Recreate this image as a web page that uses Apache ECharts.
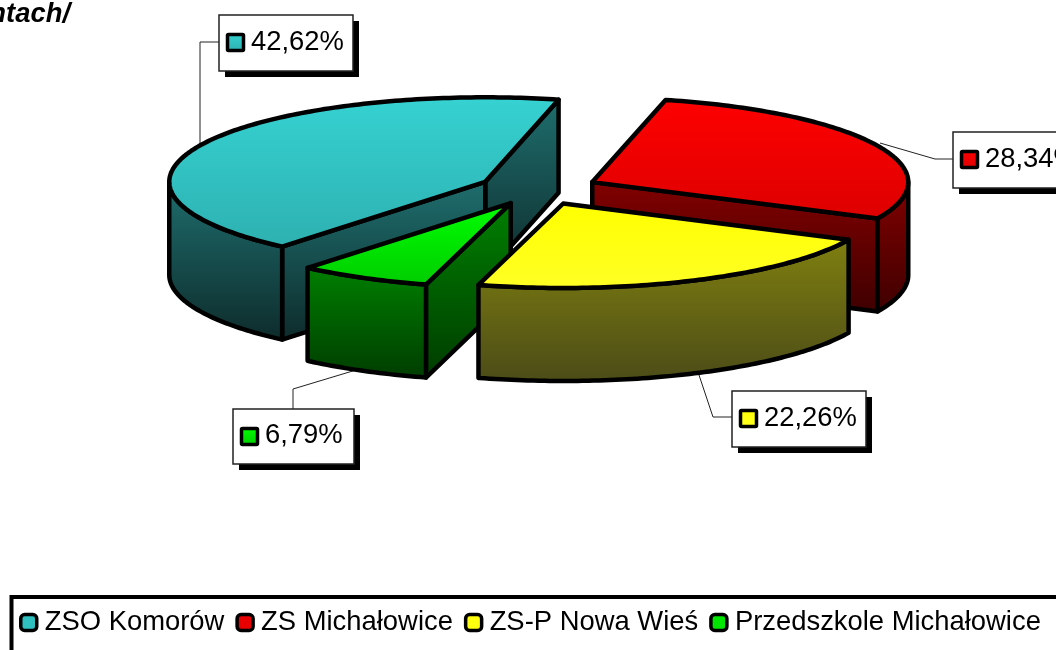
<!DOCTYPE html>
<html>
<head>
<meta charset="utf-8">
<style>
  html, body { margin: 0; padding: 0; background: #fff; }
  #chart { width: 1056px; height: 650px; }
</style>
<script src="https://cdn.jsdelivr.net/npm/echarts@6/dist/echarts.min.js"></script>
</head>
<body>
<div id="chart"></div>
<script>
// dane
var categories = ['ZSO Komorów', 'ZS Michałowice', 'ZS-P Nowa Wieś', 'Przedszkole Michałowice'];
var values = [42.62, 28.34, 22.26, 6.79];
var valueLabels = ['42,62%', '28,34%', '22,26%', '6,79%'];

// kolory: gora plasterka i sciany, od gory do dolu
var topColors = [['#36d2d2', '#2eb0b0'], ['#ff0000', '#dd0000'], ['#ffff00', '#ffff26'], ['#00ff00', '#00cc00']];
var wallColors = [['#1f6e6e', '#0e2b2b'], ['#820000', '#3f0000'], ['#808010', '#4b4b18'], ['#008000', '#003c00']];
var legendColors = ['#2fbfbf', '#e80000', '#ffff10', '#00e600'];

// uklad
var centerX = 538.5, centerY = 189;
var radiusX = 316, radiusY = 84.5;
var explode = 59.6;
var depth = 93;
var startAngle = 230; // stopnie od osi x, tu konczy sie pierwszy plasterek
var total = values.reduce(function (a, b) { return a + b; }, 0);

// ramki etykiet i linie odniesienia
var labelBoxes = [
  {x: 219, y: 15, w: 134, h: 56, line: [[219, 42], [200, 42], [200, 146]]},
  {x: 953, y: 132, w: 134, h: 56, line: [[953, 159], [935, 159], [880, 143]]},
  {x: 732, y: 391, w: 134, h: 56, line: [[732, 417], [713, 417], [698, 372]]},
  {x: 233, y: 409, w: 121, h: 55, line: [[293, 409], [293, 389], [356, 370]]}
];

function rad(d) { return d * Math.PI / 180; }

// katy plasterka liczone od startAngle w dol, zawsze a0 >= 0
function sliceAngles(index) {
  var before = 0;
  for (var i = 0; i < index; i++) before += values[i];
  var a1 = startAngle - before / total * 360;
  var a0 = a1 - values[index] / total * 360;
  if (a0 < 0) {
    a0 += 360;
    a1 += 360;
  }
  return [a0, a1];
}

function gradient(c) {
  return new echarts.graphic.LinearGradient(0, 0, 0, 1, [
    {offset: 0, color: c[0]},
    {offset: 1, color: c[1]}
  ]);
}

function polygon(points, colors) {
  return {
    type: 'polygon',
    shape: {points: points},
    style: {fill: gradient(colors), stroke: '#000', lineWidth: 4.5, lineJoin: 'round'}
  };
}

function renderSlice(index) {
  return function (params, api) {
    var a = sliceAngles(index);
    var a0 = a[0], a1 = a[1];
    var mid = rad((a0 + a1) / 2);
    var ax = centerX + explode * Math.cos(mid);
    var ay = centerY - explode * Math.sin(mid) * radiusY / radiusX;

    function pt(deg, down) {
      return [ax + radiusX * Math.cos(rad(deg)), ay - radiusY * Math.sin(rad(deg)) + (down || 0)];
    }

    var children = [];
    var box = labelBoxes[index];

    // linia odniesienia pod plasterkiem
    children.push({
      type: 'polyline',
      shape: {points: box.line},
      style: {fill: null, stroke: '#222', lineWidth: 1}
    });

    // sciany ciecia, tylko te widoczne
    if (Math.cos(rad(a0)) > 0) {
      var p0 = pt(a0);
      children.push(polygon([[ax, ay], p0, [p0[0], p0[1] + depth], [ax, ay + depth]], wallColors[index]));
    }
    if (Math.cos(rad(a1)) < 0) {
      var p1 = pt(a1);
      children.push(polygon([[ax, ay], p1, [p1[0], p1[1] + depth], [ax, ay + depth]], wallColors[index]));
    }

    // sciana zewnetrzna, przednia czesc luku
    var frontStart = Math.max(a0, 180), frontEnd = Math.min(a1, 360);
    var d;
    if (frontEnd > frontStart) {
      var wall = [];
      for (d = frontStart; d < frontEnd; d += 1) wall.push(pt(d));
      wall.push(pt(frontEnd));
      for (d = frontEnd; d > frontStart; d -= 1) wall.push(pt(d, depth));
      wall.push(pt(frontStart, depth));
      children.push(polygon(wall, wallColors[index]));
    }

    // gora plasterka
    var top = [[ax, ay]];
    for (d = a0; d < a1; d += 1) top.push(pt(d));
    top.push(pt(a1));
    children.push(polygon(top, topColors[index]));

    // etykieta z wartoscia
    children.push({
      type: 'rect',
      shape: {x: box.x + 6, y: box.y + 6, width: box.w, height: box.h},
      style: {fill: '#000'}
    });
    children.push({
      type: 'rect',
      shape: {x: box.x, y: box.y, width: box.w, height: box.h},
      style: {fill: '#fff', stroke: '#222', lineWidth: 1.5}
    });
    children.push({
      type: 'rect',
      shape: {x: box.x + 8.5, y: box.y + 19.5, width: 16, height: 16, r: 1},
      style: {fill: gradient(topColors[index]), stroke: '#000', lineWidth: 3.5}
    });
    children.push({
      type: 'text',
      style: {
        x: box.x + 32,
        y: box.y + box.h / 2 - 1,
        text: valueLabels[index],
        font: '27.4px "Liberation Sans"',
        fill: '#000',
        verticalAlign: 'middle'
      }
    });

    return {type: 'group', children: children};
  };
}

// kolejnosc rysowania: tyl, potem przod
var drawOrder = [0, 1, 3, 2];

var chart = echarts.init(document.getElementById('chart'), null, {renderer: 'canvas'});

chart.setOption({
  animation: false,
  backgroundColor: '#fff',
  textStyle: {fontFamily: 'Liberation Sans'},
  legend: {
    data: categories.map(function (name, i) {
      return {
        name: name,
        icon: 'roundRect',
        itemStyle: {color: legendColors[i], borderColor: '#000', borderWidth: 3.5}
      };
    }),
    left: 19,
    top: 609,
    padding: 0,
    width: 1200,
    itemWidth: 16,
    itemHeight: 16,
    itemGap: 11,
    selectedMode: false,
    textStyle: {fontFamily: 'Liberation Sans', fontSize: 27.4, color: '#000', padding: [0, 0, 0, 3]}
  },
  graphic: [
    {
      type: 'rect',
      z: -1,
      shape: {x: 11.5, y: 597, width: 1200, height: 120},
      style: {fill: '#fff', stroke: '#000', lineWidth: 4}
    },
    {
      type: 'text',
      style: {
        x: 70,
        y: 28,
        text: 'ntach/',
        font: 'italic bold 27.4px "Liberation Sans"',
        fill: '#000',
        textAlign: 'right',
        verticalAlign: 'bottom'
      }
    }
  ],
  series: drawOrder.map(function (i) {
    return {
      type: 'custom',
      name: categories[i],
      coordinateSystem: 'none',
      silent: true,
      itemStyle: {color: legendColors[i]},
      data: [[values[i]]],
      renderItem: renderSlice(i)
    };
  })
});
</script>
</body>
</html>
